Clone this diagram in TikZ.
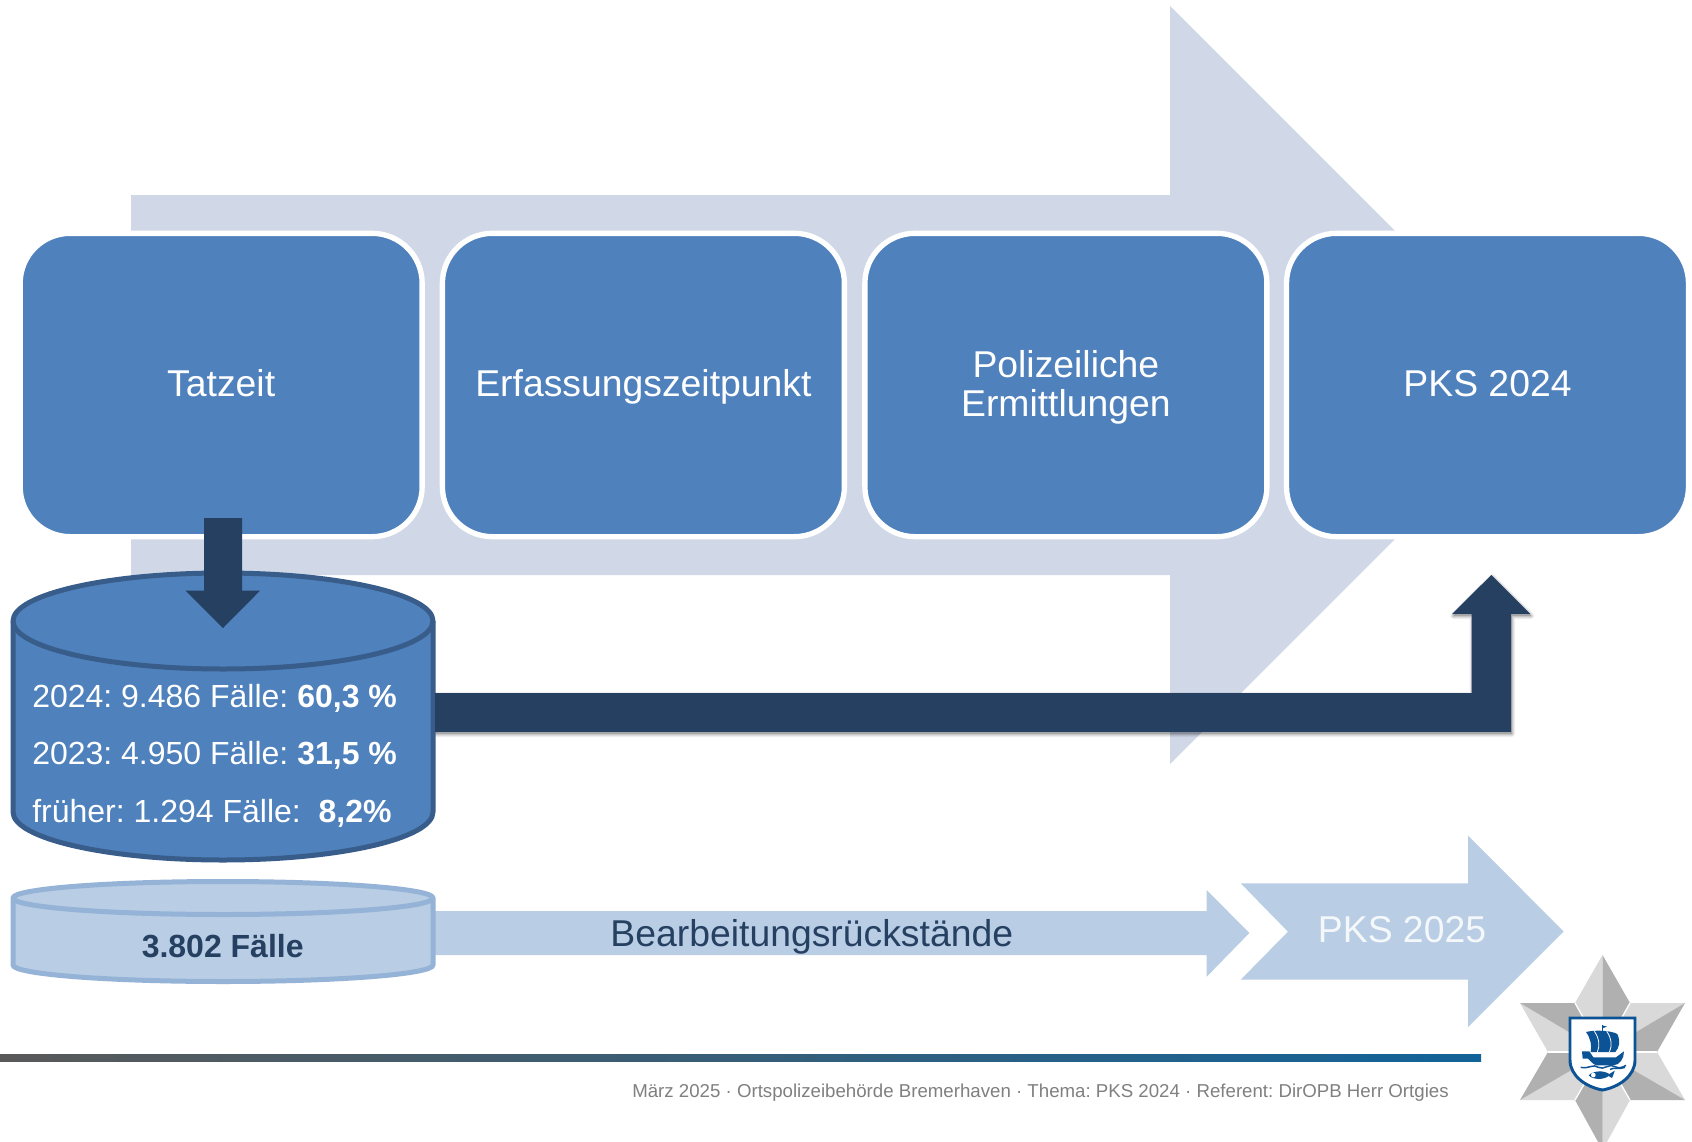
\documentclass[tikz,border=0pt]{standalone}
\usepackage{fontspec}
\setmainfont{Liberation Sans}
\frenchspacing
\definecolor{boxblue}{HTML}{4F81BD}
\definecolor{cylstroke}{HTML}{385D8A}
\definecolor{darkblue}{HTML}{264061}
\definecolor{lightblue}{HTML}{B9CDE5}
\definecolor{lightstroke}{HTML}{95B3D7}
\definecolor{pale}{HTML}{D0D8E8}
\definecolor{starlight}{HTML}{D9D9D9}
\definecolor{stardark}{HTML}{B0B0B0}
\definecolor{crest}{HTML}{0B5394}
\definecolor{barleft}{HTML}{595959}
\definecolor{barright}{HTML}{126399}
\definecolor{foottext}{HTML}{808080}
\tikzset{
  procbox/.style={draw=white,line width=4pt,fill=boxblue,rounded corners=37.5pt,minimum width=301.5pt,minimum height=227.5pt,inner sep=0pt,outer sep=0pt,text=white,align=center,font=\fontsize{28}{29.5}\selectfont},
  onebase/.style={text height=20pt,text depth=2.45pt},
  cyltext/.style={anchor=base west,inner sep=0pt,text=white,font=\fontsize{24}{28}\selectfont},
  bigtext/.style={inner sep=0pt,font=\fontsize{28}{29.5}\selectfont},
  darkarrow/.style={fill=darkblue},
  lightarrow/.style={fill=lightblue},
  cylA/.style={fill=boxblue,draw=cylstroke,line width=3.75pt,line join=round},
  cylB/.style={fill=lightblue,draw=lightstroke,line width=3.75pt,line join=round},
  facetL/.style={fill=starlight},
  facetD/.style={fill=stardark},
  crestfill/.style={fill=crest}
}
\begin{document}
\begin{tikzpicture}[x=0.75pt,y=-0.75pt]
\useasboundingbox (0,0) rectangle (1692,1142);
\clip (0,0) rectangle (1692,1142);
\fill[white] (0,0) rectangle (1692,1142);

% large background arrow
\fill[pale] (131,195) -- (1170,195) -- (1170,6) -- (1549,385) -- (1170,764) -- (1170,575) -- (131,575) -- cycle;

% process boxes
\node[procbox,onebase] (tatzeit) at (221.15,385) {Tatzeit};
\node[procbox,onebase] (erfassung) at (643.4,385) {Erfassungszeitpunkt};
\node[procbox] (ermittlung) at (1065.9,385) {\rule{0pt}{23.6pt}Polizeiliche\\Ermittlungen};
\node[procbox,onebase] (pks24) at (1487.5,385) {PKS 2024};

% shadow of the elbow arrow
\def\elbowpath{(435,693) -- (1471.7,693) -- (1471.7,614) -- (1452,614) -- (1491.3,575) -- (1530.3,614) -- (1511,614) -- (1511,732) -- (435,732) -- cycle}
\begin{scope}[shift={(1,2)}]
\foreach \w in {6,4.5,3,1.5}{
  \draw[black,opacity=.05,fill=black,fill opacity=.05,line width=\w*0.75pt,line join=round] \elbowpath;
}
\end{scope}

% light cylinder feed arrow
\fill[lightarrow] (430,911) -- (1206.7,911) -- (1206.7,890) -- (1249.3,933) -- (1206.7,976.7) -- (1206.7,955) -- (430,955) -- cycle;

% cylinders
\path[cylA] (13,621) -- (13,812) .. controls (13,838.5) and (107,860) .. (223,860) .. controls (339,860) and (433,838.5) .. (433,812) -- (433,621) .. controls (433,594.5) and (339,573) .. (223,573) .. controls (107,573) and (13,594.5) .. (13,621) -- cycle;
\draw[cylA,fill=none] (13,621) .. controls (13,647.5) and (107,669) .. (223,669) .. controls (339,669) and (433,647.5) .. (433,621);
\path[cylB] (13,898) -- (13,965) .. controls (13,974.1) and (107,981.5) .. (223,981.5) .. controls (339,981.5) and (433,974.1) .. (433,965) -- (433,898) .. controls (433,888.9) and (339,881.5) .. (223,881.5) .. controls (107,881.5) and (13,888.9) .. (13,898) -- cycle;
\draw[cylB,fill=none] (13,898) .. controls (13,907.1) and (107,914.5) .. (223,914.5) .. controls (339,914.5) and (433,907.1) .. (433,898);

% dark arrows
\fill[darkarrow] (204,518) -- (242,518) -- (242,590.7) -- (260,590.7) -- (223,628) -- (185.7,590.7) -- (204,590.7) -- cycle;
\fill[darkarrow] \elbowpath;

% cylinder texts
\node[cyltext] (t24) at (32,707.5) {2024: 9.486 Fälle: \textbf{60,3 \%}};
\node[cyltext] (t23) at (32,764.8) {2023: 4.950 Fälle: \textbf{31,5 \%}};
\node[cyltext] (t22) at (32,822.5) {früher: 1.294 Fälle:\ \ \textbf{8,2\%}};
\node[anchor=base,inner sep=0pt,text=darkblue,font=\fontsize{24}{28}\selectfont\bfseries] (rest) at (222.7,957.5) {3.802 Fälle};

% backlog label and PKS 2025 arrow
\node[bigtext,anchor=base,text=darkblue] (back) at (811.8,946) {Bearbeitungsrückstände};
\fill[lightarrow] (1240.7,883.3) -- (1468,883.3) -- (1468,835.7) -- (1563.7,931.5) -- (1468,1027) -- (1468,979.7) -- (1240.7,979.7) -- (1288,931.7) -- cycle;
\node[bigtext,anchor=base,text=white!85!lightblue] (pks25) at (1402,942.7) {PKS 2025};

% footer
\shade[left color=barleft,right color=barright] (0,1054.3) rectangle (1481,1061.7);
\node[anchor=base east,inner sep=0pt,text=foottext,font=\fontsize{14}{16}\selectfont] (foot) at (1449,1097) {März 2025 · Ortspolizeibehörde Bremerhaven · Thema: PKS 2024 · Referent: DirOPB Herr Ortgies};

% star
\coordinate (C) at (1602.5,1052);
\coordinate (iA) at (1575,1003);
\coordinate (iB) at (1630,1003);
\coordinate (iC) at (1657,1052);
\coordinate (iD) at (1630,1100);
\coordinate (iE) at (1575,1100);
\coordinate (iF) at (1548,1052);
\fill[facetL] (iA) -- (1602.5,955) -- (C) -- cycle;
\fill[facetD] (iB) -- (1602.5,955) -- (C) -- cycle;
\fill[facetL] (iB) -- (1685,1003) -- (C) -- cycle;
\fill[facetD] (iC) -- (1685,1003) -- (C) -- cycle;
\fill[facetL] (iC) -- (1685,1100) -- (C) -- cycle;
\fill[facetD] (iD) -- (1685,1100) -- (C) -- cycle;
\fill[facetL] (iD) -- (1602.5,1150) -- (C) -- cycle;
\fill[facetD] (iE) -- (1602.5,1150) -- (C) -- cycle;
\fill[facetL] (iE) -- (1520,1100) -- (C) -- cycle;
\fill[facetD] (iF) -- (1520,1100) -- (C) -- cycle;
\fill[facetL] (iF) -- (1520,1003) -- (C) -- cycle;
\fill[facetD] (iA) -- (1520,1003) -- (C) -- cycle;
\foreach \p in {iA,iB,iC,iD,iE,iF}{\draw[white,line width=1pt] (\p) -- (C);}

% shield
\draw[fill=white,draw=crest,line width=2.2pt] (1570,1018) -- (1635,1018) -- (1635,1060) .. controls (1635,1076) and (1619,1087) .. (1602.5,1090) .. controls (1586,1087) and (1570,1076) .. (1570,1060) -- cycle;
\begin{scope}[shift={(1560,1010)},x=0.25pt,y=-0.25pt]
  % sail
  \fill[crestfill] (78,66) .. controls (100,60) and (150,60) .. (172,72) .. controls (182,95) and (178,112) .. (166,126) -- (92,126) .. controls (96,108) and (92,85) .. (78,66) -- cycle;
  \draw[white,line width=.6pt] (103,64) .. controls (118,85) and (120,108) .. (112,126);
  \draw[white,line width=.6pt] (140,64) .. controls (155,85) and (157,108) .. (148,126);
  % mast and pennant
  \draw[crest,line width=.8pt] (127,64) -- (127,46);
  \fill[crestfill] (127,46) -- (141,50) -- (127,55) -- cycle;
  % hull
  \fill[crestfill] (66,124) -- (88,124) -- (100,142) -- (168,142) -- (192,124) .. controls (192,145) and (180,165) .. (160,166) -- (108,166) .. controls (96,160) and (88,150) .. (84,146) -- (68,146) -- cycle;
  % waves
  \draw[crest,line width=1.1pt] (62,172) .. controls (85,178) and (100,160) .. (115,172) .. controls (130,182) and (150,158) .. (165,170) .. controls (175,176) and (190,172) .. (198,166);
  \draw[crest,line width=1.1pt] (150,178) .. controls (165,170) and (175,180) .. (195,172);
  % fish
  \fill[crestfill] (86,196) .. controls (100,182) and (130,180) .. (148,192) -- (164,182) .. controls (160,192) and (160,198) .. (156,204) -- (146,198) .. controls (130,210) and (100,210) .. (86,196) -- cycle;
  \fill[white] (100,195) circle (7);
\end{scope}
\end{tikzpicture}
\end{document}
